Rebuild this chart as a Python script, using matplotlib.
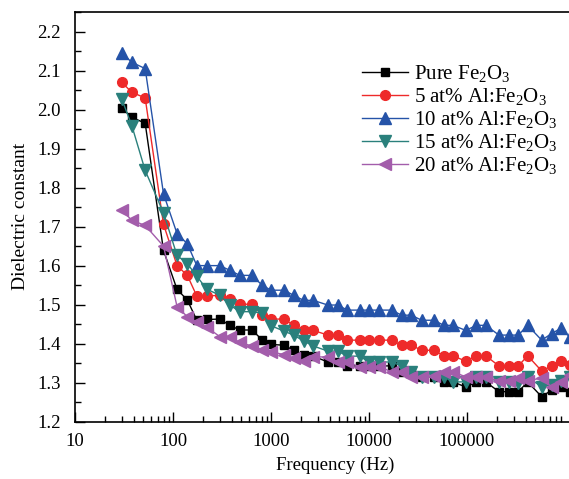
import numpy as np
import matplotlib
matplotlib.use('Agg')
import matplotlib.pyplot as plt
from matplotlib.ticker import MultipleLocator, FixedLocator, NullFormatter

plt.rcParams['font.family'] = ['Liberation Serif', 'DejaVu Serif']
plt.rcParams['mathtext.default'] = 'regular'

freq = [30, 38, 52, 80, 110, 140, 175, 220, 300, 380, 480, 640, 810, 1000,
        1360, 1700, 2150, 2700, 3800, 4800, 6000, 8000, 10000, 12700, 17000,
        21500, 27000, 34500, 46000, 58000, 72000, 97000, 125000, 155000,
        212000, 268000, 334000, 416000, 578000, 731000, 903000, 1120000]

pure = [2.004, 1.980, 1.965, 1.639, 1.539, 1.512, 1.460, 1.462, 1.463, 1.447,
        1.435, 1.435, 1.410, 1.398, 1.396, 1.383, 1.371, 1.368, 1.353, 1.353,
        1.343, 1.343, 1.343, 1.343, 1.343, 1.328, 1.328, 1.315, 1.315, 1.302,
        1.302, 1.289, 1.302, 1.302, 1.277, 1.277, 1.277, 1.302, 1.264, 1.281,
        1.289, 1.277]
al5 = [2.070, 2.044, 2.030, 1.706, 1.600, 1.575, 1.522, 1.522, 1.524, 1.514,
       1.501, 1.501, 1.473, 1.463, 1.463, 1.447, 1.434, 1.434, 1.422, 1.422,
       1.409, 1.409, 1.409, 1.409, 1.409, 1.396, 1.396, 1.383, 1.383, 1.369,
       1.369, 1.355, 1.369, 1.369, 1.343, 1.343, 1.343, 1.369, 1.330, 1.343,
       1.355, 1.345]
al10 = [2.145, 2.121, 2.105, 1.784, 1.682, 1.656, 1.600, 1.600, 1.600, 1.588,
        1.575, 1.575, 1.550, 1.537, 1.537, 1.524, 1.511, 1.511, 1.499, 1.499,
        1.486, 1.486, 1.486, 1.486, 1.486, 1.473, 1.473, 1.460, 1.460, 1.447,
        1.447, 1.434, 1.447, 1.447, 1.422, 1.422, 1.422, 1.447, 1.409, 1.426,
        1.439, 1.417]
al15 = [2.027, 1.959, 1.844, 1.735, 1.626, 1.605, 1.573, 1.540, 1.524, 1.499,
        1.482, 1.482, 1.478, 1.446, 1.432, 1.422, 1.407, 1.394, 1.381, 1.381,
        1.368, 1.368, 1.353, 1.353, 1.353, 1.343, 1.328, 1.315, 1.315, 1.315,
        1.302, 1.302, 1.315, 1.315, 1.302, 1.302, 1.300, 1.315, 1.289, 1.295,
        1.305, 1.315]
al20 = [1.743, 1.716, 1.703, 1.650, 1.495, 1.469, 1.455, 1.443, 1.418, 1.417,
        1.403, 1.394, 1.385, 1.379, 1.372, 1.362, 1.356, 1.366, 1.366, 1.353,
        1.353, 1.341, 1.341, 1.341, 1.328, 1.328, 1.315, 1.315, 1.317, 1.328,
        1.328, 1.315, 1.315, 1.315, 1.305, 1.305, 1.313, 1.305, 1.312, 1.289,
        1.302, 1.320]

series = [
    (pure, 'Pure Fe$_{2}$O$_{3}$', '#000000', 's', 6),
    (al5, '5 at% Al:Fe$_{2}$O$_{3}$', '#ee2a2a', 'o', 7),
    (al10, '10 at% Al:Fe$_{2}$O$_{3}$', '#2553a8', '^', 9),
    (al15, '15 at% Al:Fe$_{2}$O$_{3}$', '#2a807c', 'v', 9),
    (al20, '20 at% Al:Fe$_{2}$O$_{3}$', '#a35dab', '<', 9),
]

fig = plt.figure(figsize=(5.69, 4.79), dpi=100)
ax = fig.add_axes([75 / 569, 1 - 421.7 / 479, 519.5 / 569, (421.7 - 12) / 479])

for vals, label, color, marker, ms in series:
    ax.plot(freq, vals, color=color, marker=marker, markersize=ms, lw=1.0,
            label=label)

ax.set_xscale('log')
ax.set_xlim(10, 2e6)
ax.set_ylim(1.2, 2.25)
ax.set_xticks([10, 100, 1000, 10000, 100000])
ax.set_xticklabels(['10', '100', '1000', '10000', '100000'])
minors = [m * 10 ** k for k in range(1, 6) for m in range(2, 10)]
ax.xaxis.set_minor_locator(FixedLocator(minors))
ax.xaxis.set_minor_formatter(NullFormatter())
ax.yaxis.set_major_locator(MultipleLocator(0.1))
ax.yaxis.set_minor_locator(MultipleLocator(0.05))
ax.yaxis.set_major_formatter(plt.FormatStrFormatter('%.1f'))

ax.tick_params(which='both', direction='in', top=False, right=False,
               labelsize=13.5, width=1.0)
ax.tick_params(which='major', length=7)
ax.tick_params(which='minor', length=4)
ax.tick_params(axis='y', which='major', pad=10)
ax.tick_params(axis='x', which='major', pad=8)
for sp in ax.spines.values():
    sp.set_linewidth(1.2)

ax.set_xlabel('Frequency (Hz)', fontsize=13.5, labelpad=5)
ax.set_ylabel('Dielectric constant', fontsize=14, labelpad=6)

fig.legend(loc='upper left', bbox_to_anchor=(362 / 569, 1 - 63 / 479),
           frameon=False, fontsize=15, handlelength=2.2, handletextpad=0.3,
           labelspacing=0.1, borderpad=0, borderaxespad=0)

fig.savefig('out.png', dpi=100)
